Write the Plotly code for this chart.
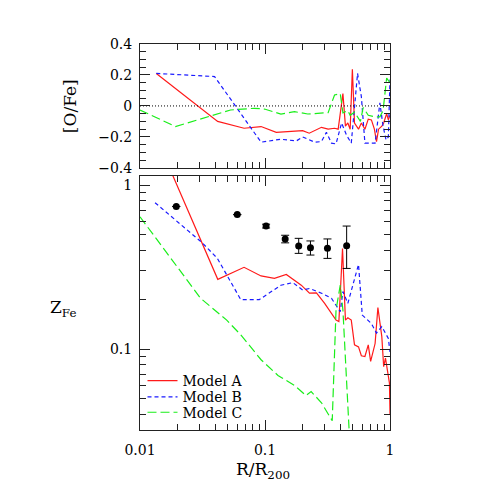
import plotly.graph_objects as go

# [O/Fe] profiles (top panel)
ofe_r_a = [0.0135, 0.0418, 0.068, 0.093, 0.123, 0.20, 0.226, 0.283, 0.32, 0.36, 0.385, 0.42, 0.44, 0.46, 0.48,
           0.50, 0.52, 0.56, 0.59, 0.63, 0.67, 0.71, 0.75, 0.78, 0.81, 0.86, 0.89, 0.94, 0.97, 1.0]
ofe_a = [0.21, -0.10, -0.144, -0.133, -0.17, -0.159, -0.176, -0.138, -0.15, -0.144, -0.15, 0.08, -0.13, -0.11, -0.15,
         0.237, -0.11, -0.15, -0.11, -0.15, -0.085, -0.09, -0.15, -0.23, -0.15, -0.13, -0.11, -0.05, -0.09, -0.06]

ofe_r_b = [0.0135, 0.0395, 0.093, 0.134, 0.178, 0.20, 0.25, 0.283, 0.31, 0.34, 0.37, 0.41, 0.45, 0.49, 0.55,
           0.59, 0.63, 0.76, 0.83, 0.88, 0.93, 0.97, 1.0]
ofe_b = [0.21, 0.19, -0.234, -0.215, -0.226, -0.2, -0.234, -0.23, -0.17, -0.24, -0.245, -0.11, -0.19, -0.24, 0.21,
         0.06, -0.24, -0.24, 0.02, -0.13, -0.22, -0.20, 0.17]

ofe_r_c = [0.01, 0.0192, 0.053, 0.082, 0.099, 0.134, 0.172, 0.22, 0.32, 0.36, 0.40, 0.42, 0.46, 0.48, 0.52,
           0.58, 0.61, 0.67, 0.76, 0.83, 0.88, 0.94, 1.0]
ofe_c = [-0.026, -0.133, -0.026, -0.015, -0.02, -0.052, -0.037, -0.052, -0.043, 0.071, 0.08, -0.045, -0.03, -0.06,
         -0.04, -0.1, -0.01, -0.06, -0.07, -0.07, -0.03, 0.18, 0.15]

# Z_Fe profiles (bottom panel)
z_r_a = [0.0135, 0.0419, 0.068, 0.093, 0.119, 0.148, 0.195, 0.227, 0.258, 0.30, 0.37, 0.39, 0.417, 0.44, 0.46,
         0.49, 0.52, 0.56, 0.59, 0.63, 0.67, 0.70, 0.76, 0.80, 0.86, 0.89, 0.92, 0.99, 1.0]
z_a = [1.95, 0.266, 0.315, 0.279, 0.27, 0.285, 0.245, 0.219, 0.22, 0.19, 0.15, 0.147, 0.41, 0.15, 0.155,
       0.15, 0.106, 0.103, 0.091, 0.090, 0.106, 0.084, 0.108, 0.179, 0.119, 0.078, 0.088, 0.062, 0.04]

z_r_b = [0.0132, 0.0185, 0.0314, 0.0416, 0.064, 0.090, 0.134, 0.167, 0.20, 0.227, 0.283, 0.34, 0.40, 0.42, 0.46,
         0.56, 0.60, 0.71, 0.78, 0.86, 0.97, 1.0]
z_b = [0.78, 0.63, 0.445, 0.357, 0.20, 0.20, 0.245, 0.254, 0.229, 0.234, 0.219, 0.204, 0.169, 0.224, 0.19,
       0.328, 0.161, 0.143, 0.125, 0.137, 0.116, 0.096]

z_r_c = [0.01, 0.0305, 0.0494, 0.064, 0.093, 0.127, 0.172, 0.213, 0.234, 0.283, 0.345, 0.37, 0.40, 0.42, 0.47, 0.50]
z_c = [0.64, 0.204, 0.150, 0.122, 0.086, 0.069, 0.060, 0.052, 0.055, 0.047, 0.0365, 0.173, 0.245, 0.173, 0.033, 0.022]

# observed points
obs_r = [0.0195, 0.060, 0.102, 0.145, 0.186, 0.231, 0.316, 0.45]
obs_z = [0.74, 0.66, 0.562, 0.469, 0.425, 0.415, 0.411, 0.427]
obs_hi = [0, 0, 0.015, 0.025, 0.048, 0.041, 0.058, 0.135]
obs_lo = [0, 0, 0.015, 0.025, 0.042, 0.041, 0.054, 0.117]

FONT = "DejaVu Serif"
RED, BLUE, GREEN = "#ff1a1a", "#1a1aff", "#1aee1a"
names = ["Model A", "Model B", "Model C"]
legends = ["legend", "legend2", "legend3"]
legend_y = [0.127, 0.085, 0.045]
styles = [dict(color=RED, width=1.2),
          dict(color=BLUE, width=1.2, dash="4px,3px"),
          dict(color=GREEN, width=1.2, dash="9px,4px")]

fig = go.Figure()

top = [(ofe_r_a, ofe_a), (ofe_r_b, ofe_b), (ofe_r_c, ofe_c)]
for (xx, yy), nm, st in zip(top, names, styles):
    fig.add_trace(go.Scatter(x=xx, y=yy, mode="lines", line=st, name=nm,
                             showlegend=False, xaxis="x2", yaxis="y2"))
fig.add_trace(go.Scatter(x=[0.01, 1], y=[0, 0], mode="lines", xaxis="x2", yaxis="y2",
                         line=dict(color="black", width=1, dash="1px,2px"), showlegend=False))

bot = [(z_r_a, z_a), (z_r_b, z_b), (z_r_c, z_c)]
for (xx, yy), nm, st, lg in zip(bot, names, styles, legends):
    fig.add_trace(go.Scatter(x=xx, y=yy, mode="lines", line=st, name=nm, legend=lg))

fig.add_trace(go.Scatter(x=obs_r, y=obs_z, mode="markers", showlegend=False,
                         marker=dict(color="black", size=7),
                         error_y=dict(type="data", symmetric=False, array=obs_hi, arrayminus=obs_lo,
                                      color="black", thickness=1, width=4)))

minor_log = [k * 10 ** e for e in (-2, -1) for k in range(2, 10)]
ax = dict(showline=True, linecolor="#222", linewidth=1, mirror="allticks", ticks="inside",
          tickcolor="#222", showgrid=False, zeroline=False, ticklen=10, ticklabelstandoff=4,
          tickfont=dict(family=FONT, size=14, color="black"))
mlog = dict(ticks="inside", ticklen=6, tickcolor="#222", tickvals=minor_log)

legend_cfg = {}
for lg, ly in zip(legends, legend_y):
    legend_cfg[lg] = dict(x=0.01, y=ly, xanchor="left", yanchor="middle", bgcolor="rgba(0,0,0,0)",
                          font=dict(family=FONT, size=14), itemwidth=30, borderwidth=0)

fig.update_layout(
    width=491, height=491,
    margin=dict(l=132, r=109, t=36, b=69),
    paper_bgcolor="white", plot_bgcolor="white",
    font=dict(family=FONT, size=14, color="black"),
    xaxis=dict(ax, type="log", range=[-2, 0], domain=[0, 1], anchor="y", ticklabelstandoff=7,
               tickvals=[0.01, 0.1, 1], ticktext=["0.01", "0.1", "1"], minor=mlog),
    yaxis=dict(ax, type="log", range=[-1.494, 0.055], domain=[0, 0.658], anchor="x",
               tickvals=[0.1, 1], ticktext=["0.1", "1"], minor=mlog),
    xaxis2=dict(ax, type="log", range=[-2, 0], anchor="y2", matches="x", showticklabels=False,
                tickvals=[0.01, 0.1, 1], minor=mlog),
    yaxis2=dict(ax, range=[-0.4, 0.4], domain=[0.679, 1], anchor="x2",
                tickvals=[-0.4, -0.2, 0, 0.2, 0.4], ticktext=["\u22120.4", "\u22120.2", "0", "0.2", "0.4"],
                minor=dict(ticks="inside", ticklen=6, tickcolor="#222", dtick=0.05)),
    annotations=[
        dict(text="[O/Fe]", x=-0.28, y=0.839, xref="paper", yref="paper", textangle=-90,
             xanchor="center", yanchor="middle", showarrow=False, font=dict(family=FONT, size=17)),
        dict(text="Z<sub>Fe</sub>", x=-0.31, y=0.316, xref="paper", yref="paper",
             xanchor="center", yanchor="middle", showarrow=False, font=dict(family=FONT, size=17)),
        dict(text="R/R<sub>200</sub>", x=0.49, y=-0.105, xref="paper", yref="paper",
             xanchor="center", yanchor="middle", showarrow=False, font=dict(family=FONT, size=17)),
    ],
    **legend_cfg,
)

fig.write_html("out.html")
